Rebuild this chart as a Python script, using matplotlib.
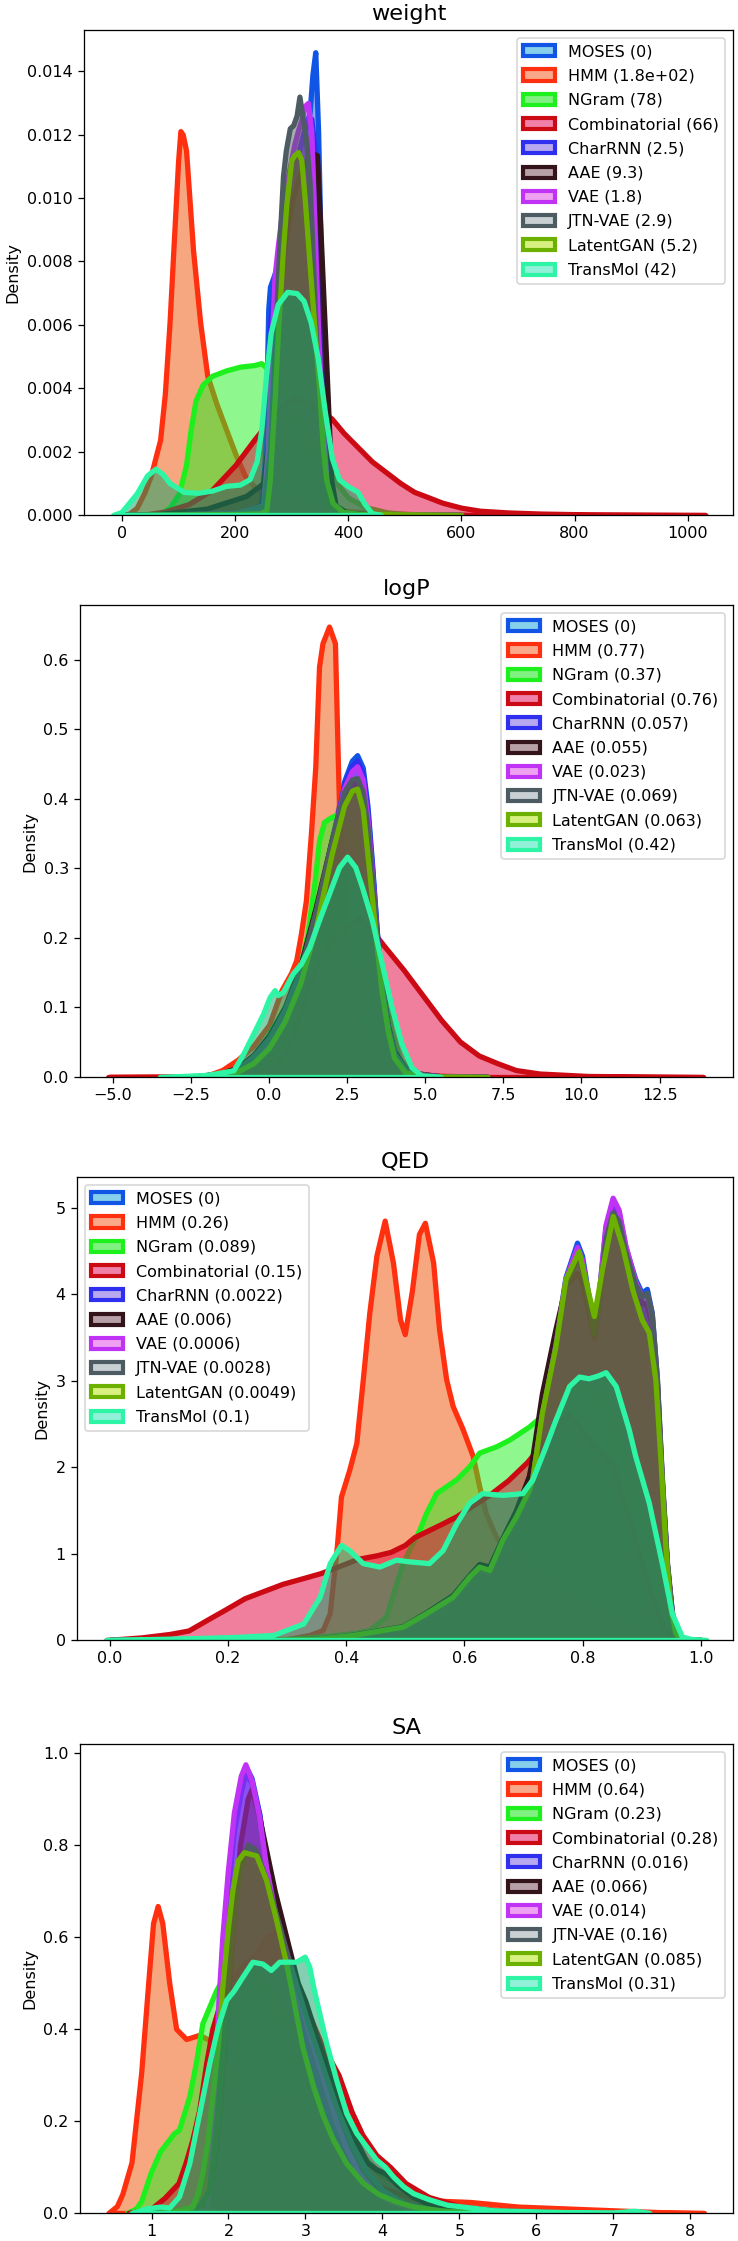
import matplotlib
matplotlib.use("Agg")
import matplotlib.pyplot as plt
from matplotlib.patches import Patch
from matplotlib.colors import to_rgba

# ---------------- models, colours, legend scores ----------------
MODELS = ["MOSES", "HMM", "NGram", "Combinatorial", "CharRNN", "AAE", "VAE",
          "JTN-VAE", "LatentGAN", "TransMol"]
EDGE = ["#1155e6", "#ff3010", "#1ef01e", "#cc0a14", "#2f2fef", "#33141a",
        "#c033f5", "#4d5c63", "#6cb000", "#2ef5a5"]
FILL = ["#1155e6", "#f05000", "#1ef01e", "#e1003c", "#2f2fef", "#33141a",
        "#c033f5", "#4d5c63", "#646e00", "#0aa064"]
LEGEND_FILL = ["#87d0ec", "#f9a98a", "#80f080", "#f080a8", "#b8a8f0", "#b8a0a8",
               "#f0a0f0", "#c8d0d4", "#d8f080", "#90f0d8"]

WEIGHT_SCORES = ["0", "1.8e+02", "78", "66", "2.5", "9.3", "1.8", "2.9", "5.2", "42"]
LOGP_SCORES = ["0", "0.77", "0.37", "0.76", "0.057", "0.055", "0.023", "0.069", "0.063", "0.42"]
QED_SCORES = ["0", "0.26", "0.089", "0.15", "0.0022", "0.006", "0.0006", "0.0028", "0.0049", "0.1"]
SA_SCORES = ["0", "0.64", "0.23", "0.28", "0.016", "0.066", "0.014", "0.16", "0.085", "0.31"]

# ---------------- weight densities ----------------
WEIGHT = {
    "MOSES": ([-10, 200, 245, 252, 256, 259, 262, 270, 280, 290, 300, 310, 320, 332, 337, 342, 347, 352, 357, 361, 367, 372, 380, 420, 600],
              [0, 0.00005, 0.0003, 0.0015, 0.004, 0.0065, 0.0072, 0.0076, 0.0082, 0.0094, 0.0104, 0.0113, 0.012, 0.0127, 0.0139, 0.0146, 0.0121, 0.008, 0.0055, 0.0037, 0.0011, 0.00025, 0.00005, 0.00001, 0]),
    "HMM": ([10, 26.6, 40, 51.5, 68, 76.4, 84.7, 93, 99.7, 103.8, 108, 113.8, 126.2, 138.7, 151.2, 167.8, 184.4, 201, 217.6, 234.2, 250.8, 267.4, 300.7, 367, 450, 533, 620],
            [0, 0.000225, 0.0007, 0.00124, 0.00237, 0.00383, 0.00608, 0.0089, 0.01115, 0.01211, 0.0120, 0.0115, 0.00834, 0.00608, 0.0044, 0.00349, 0.0027, 0.00192, 0.00124, 0.0009, 0.00068, 0.00056, 0.00034, 0.00017, 0.00006, 0.00002, 0]),
    "NGram": ([55, 68, 84.7, 101.3, 113.8, 122, 130.4, 142.9, 159.5, 184.4, 209.3, 234.2, 246.7, 267.4, 290, 308.6, 337.9, 361.4, 380, 400, 430, 470, 520],
              [0, 0.00005, 0.00023, 0.00068, 0.00158, 0.0027, 0.0036, 0.00411, 0.00439, 0.00456, 0.00468, 0.00473, 0.00479, 0.00445, 0.0038, 0.00319, 0.00225, 0.00152, 0.001, 0.00055, 0.00025, 0.00008, 0]),
    "Combinatorial": ([35, 76, 118, 159.5, 201, 234, 259, 284, 305, 325.6, 350.5, 371, 392, 417, 442, 467, 492, 516.6, 541.5, 566, 600, 633, 683, 741, 824, 1031],
                      [0, 0.00011, 0.00034, 0.00079, 0.00158, 0.00237, 0.00293, 0.00344, 0.0037, 0.0036, 0.00332, 0.00304, 0.00259, 0.00214, 0.00169, 0.00135, 0.00101, 0.00073, 0.00056, 0.00039, 0.00023, 0.000135, 0.00008, 0.000045, 0.00002, 0]),
    "CharRNN": ([-10, 200, 248, 256, 262, 270, 285, 300, 315, 328, 335, 342, 348, 355, 362, 370, 380, 420, 600],
                [0, 0.00005, 0.0003, 0.0025, 0.006, 0.0074, 0.0088, 0.0104, 0.0116, 0.0124, 0.0125, 0.0114, 0.008, 0.0045, 0.002, 0.0005, 0.00008, 0.00001, 0]),
    "AAE": ([-10, 60, 150, 220, 250, 260, 270, 280, 290, 300, 310, 320, 330, 338, 345, 352.6, 361.4, 370.2, 378, 400, 500],
            [0, 0.00002, 0.0002, 0.0006, 0.001, 0.0025, 0.005, 0.0072, 0.0088, 0.0098, 0.0105, 0.011, 0.0113, 0.0114, 0.01135, 0.0084, 0.0048, 0.0011, 0.0003, 0.00005, 0]),
    "VAE": ([-10, 200, 250, 258, 264, 270, 276, 283, 294, 305, 311, 318, 323, 329, 335, 341, 347, 355, 364, 372, 400, 600],
            [0, 0.00005, 0.0003, 0.002, 0.005, 0.0075, 0.0085, 0.0095, 0.0107, 0.0117, 0.0121, 0.0125, 0.0129, 0.013, 0.0121, 0.0089, 0.0058, 0.0027, 0.0006, 0.0001, 0.00001, 0]),
    "JTN-VAE": ([-10, 200, 250, 262, 272, 280, 285, 290, 297, 303, 309, 314, 320, 326, 332, 338, 344, 350, 358, 366, 380, 600],
                [0, 0.00005, 0.0003, 0.002, 0.006, 0.009, 0.0107, 0.0115, 0.0122, 0.0123, 0.0126, 0.0132, 0.0125, 0.0118, 0.0105, 0.008, 0.0052, 0.003, 0.0012, 0.0003, 0.00003, 0]),
    "LatentGAN": ([-10, 200, 245, 255.7, 261.6, 270.4, 276.2, 285, 290.9, 299.7, 305, 311.5, 317.4, 323.2, 332, 340.9, 349.7, 355.5, 361.4, 373, 390.8, 420, 600],
                  [0, 0.00003, 0.00005, 0.00016, 0.0011, 0.0037, 0.0058, 0.0084, 0.0098, 0.0112, 0.01135, 0.01145, 0.0112, 0.01, 0.0079, 0.0058, 0.0037, 0.0021, 0.0011, 0.00037, 0.0001, 0.00003, 0]),
    "TransMol": ([-15, 0, 26.6, 45, 59.8, 72, 84.7, 109.6, 134.5, 159.5, 184.4, 209, 226, 238.4, 246.7, 255, 263.3, 275.7, 292.4, 309, 321.4, 333.9, 346.3, 358.8, 371.3, 383.7, 400.3, 416.9, 429.4, 441.9, 458],
                 [0, 0.0001, 0.00068, 0.00125, 0.00146, 0.0013, 0.00101, 0.00073, 0.0007, 0.00077, 0.00092, 0.00096, 0.00113, 0.00169, 0.0027, 0.0044, 0.00575, 0.00665, 0.00704, 0.007, 0.00676, 0.00608, 0.00496, 0.00327, 0.0018, 0.00113, 0.0009, 0.00073, 0.00034, 0.00006, 0]),
}

# ---------------- logP densities ----------------
LOGP_GRID = [-2.5, -1.5, -1, -0.5, 0, 0.5, 1.0, 1.5, 2.0, 2.4, 2.65, 2.82, 3.0, 3.15, 3.3, 3.45, 3.6, 3.8, 4.0, 4.35, 4.8, 5.5, 7.0]
LOGP = {
    "MOSES": (LOGP_GRID, [0, 0.004, 0.01, 0.025, 0.05, 0.09, 0.145, 0.23, 0.34, 0.425, 0.455, 0.463, 0.445, 0.39, 0.305, 0.21, 0.138, 0.075, 0.036, 0.012, 0.004, 0.001, 0]),
    "HMM": ([-5.1, -3, -2, -1.5, -1, -0.5, 0, 0.4, 0.71, 0.87, 1.02, 1.18, 1.34, 1.48, 1.6, 1.71, 1.92, 2.11, 2.18, 2.24, 2.34, 2.45, 2.6, 2.76, 2.97, 3.29, 3.71, 4.24, 5.08, 7.0],
            [0, 0.0005, 0.002, 0.01, 0.025, 0.045, 0.075, 0.125, 0.15, 0.168, 0.206, 0.254, 0.35, 0.446, 0.59, 0.624, 0.648, 0.624, 0.494, 0.389, 0.30, 0.206, 0.134, 0.086, 0.058, 0.038, 0.019, 0.0096, 0.0024, 0]),
    "NGram": ([-2.5, -1.5, -0.93, -0.4, 0, 0.44, 0.87, 1.23, 1.45, 1.6, 1.76, 1.92, 2.13, 2.4, 2.7, 3.0, 3.3, 3.6, 3.9, 4.2, 4.6, 5.5, 7.0],
              [0, 0.003, 0.01, 0.034, 0.062, 0.096, 0.134, 0.206, 0.278, 0.34, 0.367, 0.372, 0.377, 0.37, 0.35, 0.31, 0.24, 0.15, 0.07, 0.025, 0.006, 0.001, 0]),
    "Combinatorial": ([-5.15, -3, -2, -1, -0.5, 0.13, 0.55, 0.87, 1.18, 1.5, 1.92, 2.5, 2.88, 3.29, 3.71, 4.31, 4.91, 5.51, 6.11, 6.71, 7.3, 7.9, 8.66, 10.2, 13.9],
                      [0, 0.0005, 0.001, 0.004, 0.008, 0.014, 0.038, 0.072, 0.12, 0.158, 0.192, 0.216, 0.228, 0.211, 0.187, 0.154, 0.118, 0.082, 0.051, 0.031, 0.02, 0.01, 0.005, 0.0015, 0]),
    "CharRNN": (LOGP_GRID, [0, 0.004, 0.01, 0.025, 0.05, 0.09, 0.145, 0.23, 0.335, 0.42, 0.448, 0.455, 0.437, 0.383, 0.3, 0.207, 0.135, 0.073, 0.035, 0.012, 0.004, 0.001, 0]),
    "AAE": (LOGP_GRID, [0, 0.006, 0.014, 0.032, 0.06, 0.1, 0.16, 0.245, 0.34, 0.405, 0.423, 0.42, 0.4, 0.35, 0.28, 0.2, 0.135, 0.075, 0.038, 0.013, 0.005, 0.001, 0]),
    "VAE": (LOGP_GRID, [0, 0.004, 0.011, 0.027, 0.052, 0.093, 0.15, 0.235, 0.335, 0.415, 0.44, 0.447, 0.428, 0.372, 0.29, 0.2, 0.131, 0.07, 0.034, 0.011, 0.004, 0.001, 0]),
    "JTN-VAE": (LOGP_GRID, [0, 0.005, 0.012, 0.03, 0.056, 0.097, 0.155, 0.24, 0.34, 0.41, 0.428, 0.43, 0.41, 0.36, 0.285, 0.2, 0.13, 0.07, 0.034, 0.012, 0.004, 0.001, 0]),
    "LatentGAN": (LOGP_GRID, [0, 0.003, 0.008, 0.02, 0.042, 0.08, 0.135, 0.215, 0.32, 0.39, 0.412, 0.415, 0.385, 0.32, 0.255, 0.185, 0.124, 0.066, 0.028, 0.007, 0.002, 0.0005, 0]),
    "TransMol": ([-3.5, -2, -1.14, -0.82, -0.51, -0.19, 0.02, 0.18, 0.28, 0.44, 0.76, 1.02, 1.29, 1.6, 1.92, 2.24, 2.5, 2.76, 2.97, 3.29, 3.61, 3.92, 4.24, 4.56, 4.87, 5.5],
                 [0, 0.003, 0.0096, 0.034, 0.062, 0.091, 0.115, 0.125, 0.118, 0.122, 0.149, 0.163, 0.187, 0.226, 0.264, 0.302, 0.317, 0.302, 0.274, 0.226, 0.163, 0.101, 0.048, 0.014, 0.0024, 0]),
}

# ---------------- QED densities ----------------
QED_GRID = [0.0, 0.25, 0.35, 0.41, 0.4955, 0.535, 0.58, 0.608, 0.625, 0.642, 0.664, 0.687, 0.709, 0.7146, 0.731, 0.754, 0.771, 0.7905, 0.799, 0.81, 0.8187, 0.827, 0.8385, 0.8508, 0.861, 0.872, 0.889, 0.9, 0.9087, 0.917, 0.9256, 0.934, 0.9425, 0.951, 0.959, 0.968, 1.0]
QED = {
    "MOSES": (QED_GRID, [0, 0, 0.012, 0.05, 0.14, 0.29, 0.48, 0.70, 0.82, 0.78, 1.1, 1.38, 1.7, 1.85, 2.63, 3.45, 4.2, 4.6, 4.45, 3.98, 3.65, 3.98, 4.76, 5.105, 4.95, 4.56, 4.18, 4.02, 4.065, 3.79, 3.02, 1.86, 0.89, 0.31, 0.078, 0, 0]),
    "HMM": ([0.25, 0.3, 0.338, 0.36, 0.372, 0.384, 0.391, 0.405, 0.417, 0.428, 0.439, 0.451, 0.465, 0.479, 0.491, 0.499, 0.511, 0.523, 0.533, 0.547, 0.557, 0.569, 0.58, 0.597, 0.614, 0.625, 0.636, 0.653, 0.676, 0.698, 0.73, 0.754, 0.8, 0.839, 0.878, 0.923, 0.96],
            [0, 0.01, 0.058, 0.116, 0.31, 1.08, 1.66, 1.97, 2.28, 3.02, 3.79, 4.45, 4.855, 4.37, 3.71, 3.54, 4.04, 4.70, 4.83, 4.37, 3.6, 3.02, 2.71, 2.44, 2.13, 1.78, 1.47, 1.2, 0.97, 0.79, 0.68, 0.58, 0.35, 0.23, 0.116, 0.02, 0]),
    "NGram": ([0.25, 0.292, 0.372, 0.411, 0.439, 0.467, 0.4955, 0.512, 0.524, 0.535, 0.552, 0.586, 0.608, 0.625, 0.653, 0.676, 0.709, 0.735, 0.76, 0.782, 0.8, 0.822, 0.839, 0.856, 0.872, 0.889, 0.906, 0.923, 0.934, 0.946, 0.957, 0.97],
              [0, 0.008, 0.05, 0.08, 0.116, 0.27, 0.89, 1.12, 1.28, 1.47, 1.70, 1.86, 2.01, 2.17, 2.24, 2.32, 2.47, 2.62, 2.85, 3.02, 2.94, 2.82, 2.71, 2.44, 2.05, 1.66, 1.28, 0.89, 0.5, 0.19, 0.04, 0]),
    "Combinatorial": ([-0.006, 0.053, 0.101, 0.133, 0.165, 0.197, 0.228, 0.26, 0.292, 0.324, 0.356, 0.388, 0.419, 0.451, 0.475, 0.499, 0.515, 0.539, 0.563, 0.587, 0.61, 0.642, 0.674, 0.706, 0.73, 0.754, 0.777, 0.81, 0.833, 0.85, 0.867, 0.884, 0.9, 0.917, 0.934, 0.951, 0.973, 1.0],
                      [0, 0.03, 0.07, 0.11, 0.236, 0.36, 0.484, 0.567, 0.65, 0.711, 0.773, 0.856, 0.939, 0.98, 1.02, 1.10, 1.19, 1.27, 1.35, 1.435, 1.54, 1.68, 1.85, 2.06, 2.26, 2.47, 2.61, 2.32, 2.17, 2.05, 1.66, 1.28, 0.89, 0.50, 0.19, 0.04, 0.008, 0]),
    "CharRNN": (QED_GRID, [0, 0, 0.012, 0.05, 0.14, 0.29, 0.48, 0.70, 0.82, 0.78, 1.1, 1.38, 1.7, 1.85, 2.6, 3.4, 4.15, 4.52, 4.38, 3.92, 3.6, 3.92, 4.7, 5.02, 4.88, 4.5, 4.1, 3.9, 3.88, 3.65, 2.95, 1.8, 0.86, 0.3, 0.075, 0, 0]),
    "AAE": (QED_GRID, [0, 0, 0.015, 0.06, 0.16, 0.32, 0.52, 0.75, 0.88, 0.85, 1.18, 1.5, 1.9, 2.1, 2.85, 3.6, 4.1, 4.25, 4.15, 3.8, 3.5, 3.85, 4.6, 4.95, 4.85, 4.5, 4.1, 3.9, 3.9, 3.65, 2.95, 1.82, 0.88, 0.3, 0.075, 0, 0]),
    "VAE": (QED_GRID, [0, 0, 0.012, 0.05, 0.14, 0.29, 0.48, 0.70, 0.82, 0.78, 1.1, 1.38, 1.7, 1.85, 2.6, 3.42, 4.18, 4.55, 4.4, 3.95, 3.62, 3.98, 4.8, 5.12, 4.98, 4.58, 4.15, 3.98, 4.0, 3.75, 3.0, 1.85, 0.88, 0.31, 0.078, 0, 0]),
    "JTN-VAE": (QED_GRID, [0, 0, 0.014, 0.055, 0.15, 0.3, 0.49, 0.71, 0.83, 0.8, 1.12, 1.4, 1.72, 1.87, 2.62, 3.4, 4.1, 4.42, 4.3, 3.9, 3.55, 3.9, 4.65, 4.95, 4.85, 4.5, 4.12, 3.98, 4.02, 3.78, 3.05, 1.9, 0.92, 0.33, 0.08, 0, 0]),
    "LatentGAN": ([0.0, 0.25, 0.35, 0.411, 0.4955, 0.535, 0.58, 0.608, 0.625, 0.642, 0.664, 0.687, 0.709, 0.7146, 0.731, 0.754, 0.771, 0.7934, 0.8, 0.819, 0.833, 0.851, 0.867, 0.884, 0.9, 0.912, 0.923, 0.932, 0.94, 0.948, 0.957, 0.968, 1.0],
                  [0, 0, 0.015, 0.058, 0.155, 0.31, 0.50, 0.734, 0.85, 0.81, 1.16, 1.43, 1.74, 1.856, 2.63, 3.40, 4.18, 4.5, 4.3, 3.75, 4.3, 4.91, 4.56, 4.06, 3.71, 3.56, 3.02, 2.05, 1.08, 0.39, 0.08, 0, 0]),
    "TransMol": ([-0.006, 0.133, 0.21, 0.276, 0.327, 0.355, 0.372, 0.391, 0.405, 0.428, 0.456, 0.484, 0.507, 0.54, 0.563, 0.586, 0.608, 0.63, 0.664, 0.698, 0.715, 0.737, 0.754, 0.777, 0.794, 0.81, 0.825, 0.839, 0.856, 0.878, 0.889, 0.912, 0.934, 0.951, 0.968, 0.985, 1.0095],
                 [0, 0.02, 0.035, 0.058, 0.19, 0.50, 0.89, 1.1, 1.04, 0.89, 0.85, 0.93, 0.91, 0.89, 1.04, 1.35, 1.59, 1.70, 1.68, 1.70, 1.86, 2.24, 2.55, 2.94, 3.05, 3.03, 3.06, 3.10, 2.94, 2.44, 2.13, 1.59, 0.89, 0.31, 0.04, 0.01, 0]),
}

# ---------------- SA densities ----------------
SA_GRID = [0.9, 1.4, 1.6, 1.71, 1.75, 1.79, 1.83, 1.87, 1.92, 1.99, 2.07, 2.16, 2.22, 2.3, 2.40, 2.49, 2.62, 2.75, 2.88, 3.01, 3.14, 3.27, 3.40, 3.53, 3.70, 3.88, 4.05, 4.31, 4.49, 5.0, 6.0]
SA = {
    "MOSES": (SA_GRID, [0, 0.002, 0.004, 0.007, 0.036, 0.145, 0.289, 0.434, 0.578, 0.723, 0.853, 0.935, 0.971, 0.945, 0.868, 0.759, 0.651, 0.564, 0.492, 0.419, 0.347, 0.275, 0.202, 0.145, 0.087, 0.051, 0.029, 0.014, 0.007, 0.002, 0]),
    "HMM": ([0.44, 0.55, 0.62, 0.74, 0.866, 0.957, 1.02, 1.08, 1.14, 1.23, 1.32, 1.45, 1.62, 1.75, 1.88, 2.01, 2.18, 2.31, 2.49, 2.66, 2.83, 3.01, 3.18, 3.31, 3.55, 3.86, 4.23, 4.53, 4.84, 5.14, 5.45, 5.76, 6.37, 6.98, 7.59, 8.18],
            [0, 0.015, 0.041, 0.11, 0.305, 0.5, 0.63, 0.667, 0.63, 0.5, 0.4, 0.378, 0.387, 0.376, 0.325, 0.275, 0.224, 0.202, 0.224, 0.253, 0.231, 0.202, 0.188, 0.157, 0.103, 0.064, 0.041, 0.029, 0.026, 0.024, 0.019, 0.014, 0.01, 0.006, 0.002, 0]),
    "NGram": ([0.68, 0.8, 0.866, 0.99, 1.11, 1.29, 1.357, 1.49, 1.575, 1.66, 1.75, 1.84, 2.01, 2.23, 2.44, 2.66, 2.88, 3.10, 3.31, 3.53, 3.75, 3.96, 4.18, 4.40, 4.7, 5.2, 6.0],
              [0, 0.01, 0.026, 0.088, 0.134, 0.173, 0.181, 0.253, 0.325, 0.412, 0.448, 0.484, 0.535, 0.539, 0.506, 0.448, 0.376, 0.304, 0.231, 0.174, 0.123, 0.087, 0.065, 0.043, 0.02, 0.005, 0]),
    "Combinatorial": ([0.7, 0.85, 1.0, 1.17, 1.35, 1.44, 1.53, 1.62, 1.71, 1.79, 1.88, 2.0, 2.2, 2.36, 2.5, 2.62, 2.75, 2.9, 3.05, 3.2, 3.43, 3.6, 3.74, 3.92, 4.1, 4.3, 4.6, 5.0, 5.5, 6.5, 7.0],
                      [0, 0.005, 0.01, 0.033, 0.065, 0.108, 0.159, 0.224, 0.325, 0.40, 0.45, 0.50, 0.54, 0.564, 0.6, 0.611, 0.564, 0.49, 0.43, 0.37, 0.30, 0.22, 0.17, 0.126, 0.1, 0.065, 0.035, 0.015, 0.006, 0.001, 0]),
    "CharRNN": (SA_GRID, [0, 0.002, 0.004, 0.007, 0.03, 0.13, 0.27, 0.41, 0.555, 0.7, 0.83, 0.915, 0.955, 0.935, 0.865, 0.76, 0.652, 0.565, 0.49, 0.418, 0.345, 0.273, 0.2, 0.143, 0.086, 0.05, 0.028, 0.013, 0.006, 0.002, 0]),
    "AAE": ([1.4, 1.6, 1.75, 1.85, 1.95, 2.05, 2.15, 2.25, 2.30, 2.4, 2.5, 2.6, 2.75, 2.9, 3.0, 3.15, 3.31, 3.45, 3.62, 3.8, 3.92, 4.05, 4.2, 4.4, 4.7, 5.2],
            [0, 0.01, 0.04, 0.15, 0.35, 0.6, 0.8, 0.9, 0.921, 0.86, 0.78, 0.7, 0.6, 0.5, 0.46, 0.38, 0.305, 0.23, 0.17, 0.11, 0.095, 0.085, 0.06, 0.035, 0.012, 0]),
    "VAE": (SA_GRID, [0, 0.002, 0.005, 0.01, 0.045, 0.16, 0.31, 0.46, 0.6, 0.74, 0.87, 0.95, 0.975, 0.94, 0.86, 0.75, 0.64, 0.555, 0.485, 0.412, 0.34, 0.27, 0.198, 0.142, 0.085, 0.05, 0.028, 0.013, 0.006, 0.002, 0]),
    "JTN-VAE": ([1.3, 1.6, 1.75, 1.85, 1.95, 2.05, 2.15, 2.25, 2.35, 2.5, 2.65, 2.8, 3.0, 3.2, 3.4, 3.6, 3.8, 4.0, 4.3, 4.7, 5.5],
                [0, 0.01, 0.05, 0.2, 0.42, 0.62, 0.75, 0.8, 0.79, 0.72, 0.63, 0.54, 0.43, 0.33, 0.23, 0.15, 0.09, 0.05, 0.02, 0.006, 0]),
    "LatentGAN": ([1.0, 1.3, 1.53, 1.60, 1.66, 1.73, 1.79, 1.86, 1.92, 1.99, 2.05, 2.12, 2.20, 2.36, 2.49, 2.62, 2.75, 2.86, 2.96, 3.10, 3.23, 3.36, 3.53, 3.75, 3.96, 4.18, 4.40, 4.8, 5.5],
                  [0, 0.004, 0.014, 0.043, 0.087, 0.159, 0.253, 0.361, 0.492, 0.615, 0.701, 0.766, 0.784, 0.777, 0.723, 0.636, 0.542, 0.448, 0.361, 0.275, 0.21, 0.159, 0.108, 0.065, 0.04, 0.025, 0.014, 0.005, 0]),
    "TransMol": ([0.74, 0.93, 1.11, 1.23, 1.357, 1.49, 1.62, 1.75, 1.86, 1.97, 2.07, 2.18, 2.31, 2.44, 2.55, 2.66, 2.79, 2.88, 2.99, 3.05, 3.10, 3.18, 3.27, 3.40, 3.53, 3.66, 3.79, 3.92, 4.03, 4.14, 4.27, 4.40, 4.6, 4.84, 5.45, 6.37, 7.0, 7.28, 7.47],
                 [0, 0.01, 0.014, 0.012, 0.036, 0.108, 0.217, 0.325, 0.405, 0.463, 0.484, 0.513, 0.546, 0.542, 0.528, 0.546, 0.546, 0.546, 0.557, 0.535, 0.492, 0.434, 0.369, 0.289, 0.217, 0.174, 0.145, 0.116, 0.101, 0.079, 0.058, 0.043, 0.03, 0.018, 0.006, 0.002, 0.001, 0.005, 0]),
}

PANELS = [
    ("weight", WEIGHT, WEIGHT_SCORES),
    ("logP", LOGP, LOGP_SCORES),
    ("QED", QED, QED_SCORES),
    ("SA", SA, SA_SCORES),
]

# ---------------- layout (pixels of the 738 x 2241 image) ----------------
W, H, DPI = 738, 2241, 115
AX_PIX = [  # left, top, right, bottom
    (84, 30, 733, 515),
    (80, 605, 733, 1077),
    (77, 1177, 733, 1640),
    (80, 1744, 733, 2213),
]
XLIMS = [(-66.4, 1079.7), (-6.05, 14.85), (-0.0557, 1.0545), (0.071, 8.555)]
YLIMS = [(0, 0.0153), (0, 0.679), (0, 5.36), (0, 1.019)]
XTICKS = [[0, 200, 400, 600, 800, 1000],
          [-5.0, -2.5, 0.0, 2.5, 5.0, 7.5, 10.0, 12.5],
          [0.0, 0.2, 0.4, 0.6, 0.8, 1.0],
          [1, 2, 3, 4, 5, 6, 7, 8]]
YTICKS = [[0, 0.002, 0.004, 0.006, 0.008, 0.010, 0.012, 0.014],
          [0.0, 0.1, 0.2, 0.3, 0.4, 0.5, 0.6],
          [0, 1, 2, 3, 4, 5],
          [0.0, 0.2, 0.4, 0.6, 0.8, 1.0]]
LEGEND_LOC = ["upper right", "upper right", "upper left", "upper right"]
LW = 3.3
FILL_ALPHA = 0.5

fig = plt.figure(figsize=(W / DPI, H / DPI), dpi=DPI)

for p, (title, curves, scores) in enumerate(PANELS):
    l, t, r, b = AX_PIX[p]
    ax = fig.add_axes([l / W, 1 - b / H, (r - l) / W, (b - t) / H])
    for i, m in enumerate(MODELS):
        xs, ys = curves[m]
        ax.fill_between(xs, ys, 0, facecolor=to_rgba(FILL[i], FILL_ALPHA),
                        edgecolor=EDGE[i], linewidth=LW)
    ax.set_xlim(*XLIMS[p])
    ax.set_ylim(*YLIMS[p])
    ax.set_xticks(XTICKS[p])
    ax.set_yticks(YTICKS[p])
    if p == 0:
        ax.yaxis.set_major_formatter(matplotlib.ticker.FormatStrFormatter("%.3f"))
    elif p in (1, 3):
        ax.yaxis.set_major_formatter(matplotlib.ticker.FormatStrFormatter("%.1f"))
    if p == 1:
        ax.xaxis.set_major_formatter(matplotlib.ticker.FuncFormatter(
            lambda v, pos: ("%.1f" % v).replace("-", "\u2212")))
    if p == 2:
        ax.xaxis.set_major_formatter(matplotlib.ticker.FormatStrFormatter("%.1f"))
    ax.set_title(title, fontsize=14)
    ax.set_ylabel("Density", fontsize=10)
    ax.tick_params(labelsize=10)
    handles = [Patch(facecolor=LEGEND_FILL[i], edgecolor=EDGE[i], linewidth=2.6)
               for i in range(len(MODELS))]
    labels = ["%s (%s)" % (m, s) for m, s in zip(MODELS, scores)]
    ax.legend(handles, labels, loc=LEGEND_LOC[p], fontsize=10, labelspacing=0.58)

fig.savefig("out.png", dpi=DPI)
